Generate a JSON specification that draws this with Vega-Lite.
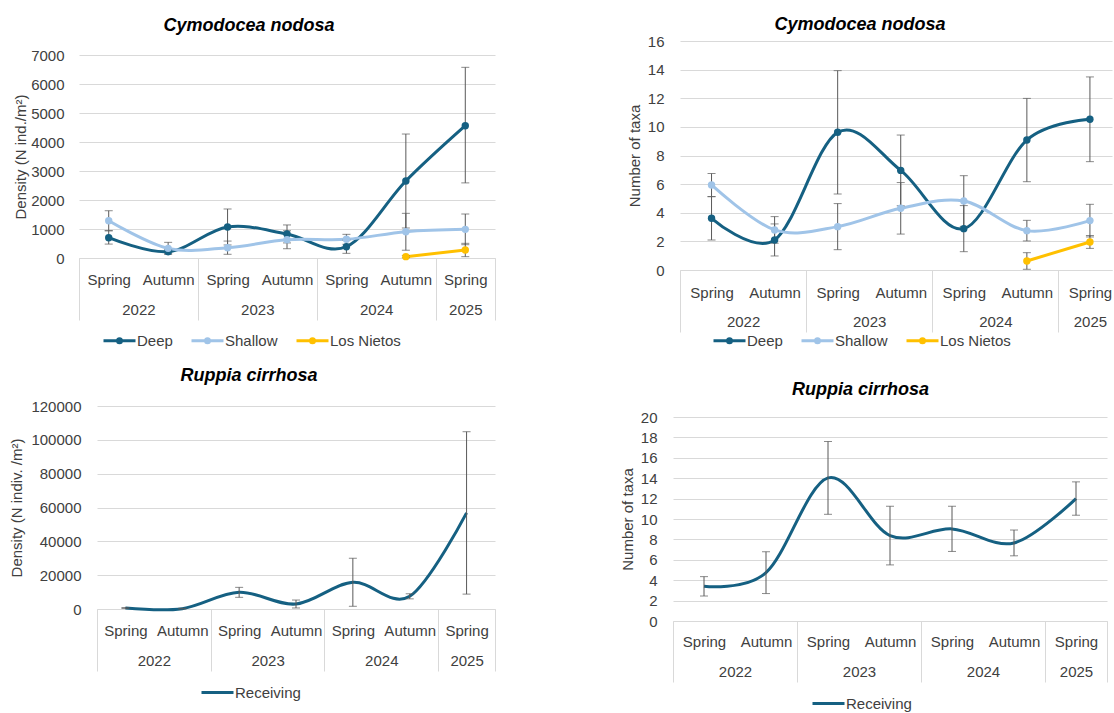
{
  "$schema": "https://vega.github.io/schema/vega-lite/v6.json",
  "background": "white",
  "padding": {"left": 9, "top": 16, "right": 0, "bottom": 0},
  "datasets": {
    "cd": [
      {"t": 1, "season": "Spring", "year": 2022, "series": "Deep", "value": 700, "lo": 480, "hi": 940},
      {"t": 2, "season": "Autumn", "year": 2022, "series": "Deep", "value": 218, "lo": 150, "hi": 290},
      {"t": 3, "season": "Spring", "year": 2023, "series": "Deep", "value": 1070, "lo": 450, "hi": 1690},
      {"t": 4, "season": "Autumn", "year": 2023, "series": "Deep", "value": 830, "lo": 520, "hi": 1140},
      {"t": 5, "season": "Spring", "year": 2024, "series": "Deep", "value": 390, "lo": 161, "hi": 619},
      {"t": 6, "season": "Autumn", "year": 2024, "series": "Deep", "value": 2655, "lo": 1035, "hi": 4275},
      {"t": 7, "season": "Spring", "year": 2025, "series": "Deep", "value": 4562, "lo": 2590, "hi": 6575},
      {"t": 1, "season": "Spring", "year": 2022, "series": "Shallow", "value": 1286, "lo": 940, "hi": 1630},
      {"t": 2, "season": "Autumn", "year": 2022, "series": "Shallow", "value": 333, "lo": 126, "hi": 540},
      {"t": 3, "season": "Spring", "year": 2023, "series": "Shallow", "value": 356, "lo": 128, "hi": 584},
      {"t": 4, "season": "Autumn", "year": 2023, "series": "Shallow", "value": 630, "lo": 320, "hi": 940},
      {"t": 5, "season": "Spring", "year": 2024, "series": "Shallow", "value": 644, "lo": 472, "hi": 816},
      {"t": 6, "season": "Autumn", "year": 2024, "series": "Shallow", "value": 908, "lo": 268, "hi": 1540},
      {"t": 7, "season": "Spring", "year": 2025, "series": "Shallow", "value": 988, "lo": 459, "hi": 1517},
      {"t": 6, "season": "Autumn", "year": 2024, "series": "Los Nietos", "value": 46, "lo": 10, "hi": 82},
      {"t": 7, "season": "Spring", "year": 2025, "series": "Los Nietos", "value": 276, "lo": 46, "hi": 506}
    ],
    "ct": [
      {"t": 1, "season": "Spring", "year": 2022, "series": "Deep", "value": 3.61, "lo": 2.10, "hi": 5.12},
      {"t": 2, "season": "Autumn", "year": 2022, "series": "Deep", "value": 2.10, "lo": 0.98, "hi": 3.22},
      {"t": 3, "season": "Spring", "year": 2023, "series": "Deep", "value": 9.62, "lo": 5.31, "hi": 13.93},
      {"t": 4, "season": "Autumn", "year": 2023, "series": "Deep", "value": 6.96, "lo": 4.49, "hi": 9.43},
      {"t": 5, "season": "Spring", "year": 2024, "series": "Deep", "value": 2.89, "lo": 1.28, "hi": 4.50},
      {"t": 6, "season": "Autumn", "year": 2024, "series": "Deep", "value": 9.08, "lo": 6.17, "hi": 11.99},
      {"t": 7, "season": "Spring", "year": 2025, "series": "Deep", "value": 10.53, "lo": 7.57, "hi": 13.49},
      {"t": 1, "season": "Spring", "year": 2022, "series": "Shallow", "value": 5.94, "lo": 5.14, "hi": 6.74},
      {"t": 2, "season": "Autumn", "year": 2022, "series": "Shallow", "value": 2.80, "lo": 1.87, "hi": 3.73},
      {"t": 3, "season": "Spring", "year": 2023, "series": "Shallow", "value": 3.03, "lo": 1.42, "hi": 4.64},
      {"t": 4, "season": "Autumn", "year": 2023, "series": "Shallow", "value": 4.31, "lo": 2.51, "hi": 6.11},
      {"t": 5, "season": "Spring", "year": 2024, "series": "Shallow", "value": 4.82, "lo": 3.05, "hi": 6.59},
      {"t": 6, "season": "Autumn", "year": 2024, "series": "Shallow", "value": 2.75, "lo": 2.03, "hi": 3.47},
      {"t": 7, "season": "Spring", "year": 2025, "series": "Shallow", "value": 3.45, "lo": 2.31, "hi": 4.59},
      {"t": 6, "season": "Autumn", "year": 2024, "series": "Los Nietos", "value": 0.63, "lo": 0.05, "hi": 1.21},
      {"t": 7, "season": "Spring", "year": 2025, "series": "Los Nietos", "value": 1.96, "lo": 1.51, "hi": 2.41}
    ],
    "rd": [
      {"t": 1, "season": "Spring", "year": 2022, "series": "Receiving", "value": 590, "lo": 290, "hi": 890},
      {"t": 2, "season": "Autumn", "year": 2022, "series": "Receiving", "value": 200, "lo": 0, "hi": 400},
      {"t": 3, "season": "Spring", "year": 2023, "series": "Receiving", "value": 9850, "lo": 6900, "hi": 12800},
      {"t": 4, "season": "Autumn", "year": 2023, "series": "Receiving", "value": 2950, "lo": 600, "hi": 5300},
      {"t": 5, "season": "Spring", "year": 2024, "series": "Receiving", "value": 15800, "lo": 1600, "hi": 30000},
      {"t": 6, "season": "Autumn", "year": 2024, "series": "Receiving", "value": 7500, "lo": 6000, "hi": 9000},
      {"t": 7, "season": "Spring", "year": 2025, "series": "Receiving", "value": 56800, "lo": 8800, "hi": 104800}
    ],
    "rt": [
      {"t": 1, "season": "Spring", "year": 2022, "series": "Receiving", "value": 3.40, "lo": 2.45, "hi": 4.35},
      {"t": 2, "season": "Autumn", "year": 2022, "series": "Receiving", "value": 4.74, "lo": 2.69, "hi": 6.79},
      {"t": 3, "season": "Spring", "year": 2023, "series": "Receiving", "value": 14.03, "lo": 10.46, "hi": 17.60},
      {"t": 4, "season": "Autumn", "year": 2023, "series": "Receiving", "value": 8.38, "lo": 5.50, "hi": 11.25},
      {"t": 5, "season": "Spring", "year": 2024, "series": "Receiving", "value": 9.03, "lo": 6.82, "hi": 11.25},
      {"t": 6, "season": "Autumn", "year": 2024, "series": "Receiving", "value": 7.65, "lo": 6.39, "hi": 8.92},
      {"t": 7, "season": "Spring", "year": 2025, "series": "Receiving", "value": 12.00, "lo": 10.37, "hi": 13.64}
    ]
  },
  "concat": [
    {
      "width": 398, "height": 217,
      "title": {"text": "Cymodocea nodosa", "dx": -47, "offset": 6},
      "data": {"name": "cd"},
      "layer": [
        {"mark": {"type": "line", "interpolate": "cardinal", "strokeWidth": 3},
         "encoding": {
           "x": {"field": "t", "type": "quantitative", "scale": {"domain": [0.5, 7.5], "range": [-18, 398], "nice": false, "zero": false},
                 "axis": {"orient": "bottom", "values": [1, 2, 3, 4, 5, 6, 7], "labelExpr": "datum.value % 2 == 1 ? 'Spring' : 'Autumn'", "domain": true, "ticks": false, "tickSize": 0, "labelPadding": 14, "grid": false, "title": null, "labelOverlap": false, "labelFlush": false}},
           "y": {"field": "value", "type": "quantitative", "scale": {"domain": [0, 7000], "range": [217, 14], "nice": false},
                 "axis": {"title": "Density (N ind./m²)", "values": [0, 1000, 2000, 3000, 4000, 5000, 6000, 7000], "format": "d", "labelPadding": 33, "titlePadding": 2}},
           "color": {"field": "series", "type": "nominal", "scale": {"domain": ["Deep", "Shallow", "Los Nietos"], "range": ["#156082", "#a0c4e8", "#ffc000"]},
                     "legend": {"title": null, "legendX": 5, "legendY": 290}}
         }},
        {"mark": {"type": "rule", "color": "#595959", "strokeWidth": 1},
         "encoding": {
           "x": {"field": "t", "type": "quantitative", "scale": {"domain": [0.5, 7.5], "range": [-18, 398], "nice": false, "zero": false},
                 "axis": {"orient": "bottom", "values": [0.5, 2.5, 4.5, 6.5, 7.5], "labels": false, "domain": false, "ticks": true, "tickSize": 62, "tickColor": "#d9d9d9", "grid": false, "title": null}},
           "y": {"field": "lo", "type": "quantitative", "scale": {"domain": [0, 7000], "range": [217, 14], "nice": false},
                 "axis": {"title": "Density (N ind./m²)", "values": [0, 1000, 2000, 3000, 4000, 5000, 6000, 7000], "format": "d", "labelPadding": 33, "titlePadding": 2}},
           "y2": {"field": "hi"}
         }},
        {"mark": {"type": "tick", "orient": "horizontal", "size": 8, "thickness": 1, "color": "#595959"},
         "encoding": {
           "x": {"field": "t", "type": "quantitative", "scale": {"domain": [0.5, 7.5], "range": [-18, 398], "nice": false, "zero": false},
                 "axis": {"orient": "bottom", "values": [1.5, 3.5, 5.5, 7], "labelExpr": "'' + (2021 + ceil(datum.value / 2))", "domain": false, "ticks": false, "tickSize": 0, "labelPadding": 44, "grid": false, "title": null, "labelOverlap": false, "labelFlush": false}},
           "y": {"field": "hi", "type": "quantitative", "scale": {"domain": [0, 7000], "range": [217, 14], "nice": false},
                 "axis": {"title": "Density (N ind./m²)", "values": [0, 1000, 2000, 3000, 4000, 5000, 6000, 7000], "format": "d", "labelPadding": 33, "titlePadding": 2}}
         }},
        {"mark": {"type": "tick", "orient": "horizontal", "size": 8, "thickness": 1, "color": "#595959"},
         "encoding": {
           "x": {"field": "t", "type": "quantitative", "scale": {"domain": [0.5, 7.5], "range": [-18, 398], "nice": false, "zero": false}, "axis": null},
           "y": {"field": "lo", "type": "quantitative", "scale": {"domain": [0, 7000], "range": [217, 14], "nice": false},
                 "axis": {"title": "Density (N ind./m²)", "values": [0, 1000, 2000, 3000, 4000, 5000, 6000, 7000], "format": "d", "labelPadding": 33, "titlePadding": 2}}
         }},
        {"mark": {"type": "point", "filled": true, "size": 55, "opacity": 1},
         "encoding": {
           "x": {"field": "t", "type": "quantitative", "scale": {"domain": [0.5, 7.5], "range": [-18, 398], "nice": false, "zero": false}, "axis": null},
           "y": {"field": "value", "type": "quantitative", "scale": {"domain": [0, 7000], "range": [217, 14], "nice": false},
                 "axis": {"title": "Density (N ind./m²)", "values": [0, 1000, 2000, 3000, 4000, 5000, 6000, 7000], "format": "d", "labelPadding": 33, "titlePadding": 2}},
           "color": {"field": "series", "type": "nominal", "scale": {"domain": ["Deep", "Shallow", "Los Nietos"], "range": ["#156082", "#a0c4e8", "#ffc000"]}, "legend": null}
         }}
      ],
      "resolve": {"axis": {"x": "independent"}}
    },
    {
      "width": 432, "height": 229,
      "title": {"text": "Cymodocea nodosa", "dx": -36, "offset": 0},
      "data": {"name": "ct"},
      "layer": [
        {"mark": {"type": "line", "interpolate": "cardinal", "strokeWidth": 3},
         "encoding": {
           "x": {"field": "t", "type": "quantitative", "scale": {"domain": [0.5, 7.35], "nice": false, "zero": false},
                 "axis": {"orient": "bottom", "values": [1, 2, 3, 4, 5, 6, 7], "labelExpr": "datum.value % 2 == 1 ? 'Spring' : 'Autumn'", "domain": true, "ticks": false, "tickSize": 0, "labelPadding": 15, "grid": false, "title": null, "labelOverlap": false, "labelFlush": false}},
           "y": {"field": "value", "type": "quantitative", "scale": {"domain": [0, 16], "nice": false},
                 "axis": {"title": "Number of taxa", "values": [0, 2, 4, 6, 8, 10, 12, 14, 16], "labelPadding": 16, "titlePadding": 5}},
           "color": {"field": "series", "type": "nominal", "scale": {"domain": ["Deep", "Shallow", "Los Nietos"], "range": ["#156082", "#a0c4e8", "#ffc000"]},
                     "legend": {"title": null, "legendX": 32, "legendY": 290}}
         }},
        {"mark": {"type": "rule", "color": "#595959", "strokeWidth": 1},
         "encoding": {
           "x": {"field": "t", "type": "quantitative", "scale": {"domain": [0.5, 7.35], "nice": false, "zero": false},
                 "axis": {"orient": "bottom", "values": [0.5, 2.5, 4.5, 6.5], "labels": false, "domain": false, "ticks": true, "tickSize": 62, "tickColor": "#d9d9d9", "grid": false, "title": null}},
           "y": {"field": "lo", "type": "quantitative", "scale": {"domain": [0, 16], "nice": false},
                 "axis": {"title": "Number of taxa", "values": [0, 2, 4, 6, 8, 10, 12, 14, 16], "labelPadding": 16, "titlePadding": 5}},
           "y2": {"field": "hi"}
         }},
        {"mark": {"type": "tick", "orient": "horizontal", "size": 8, "thickness": 1, "color": "#595959"},
         "encoding": {
           "x": {"field": "t", "type": "quantitative", "scale": {"domain": [0.5, 7.35], "nice": false, "zero": false},
                 "axis": {"orient": "bottom", "values": [1.5, 3.5, 5.5, 7], "labelExpr": "'' + (2021 + ceil(datum.value / 2))", "domain": false, "ticks": false, "tickSize": 0, "labelPadding": 44, "grid": false, "title": null, "labelOverlap": false, "labelFlush": false}},
           "y": {"field": "hi", "type": "quantitative", "scale": {"domain": [0, 16], "nice": false},
                 "axis": {"title": "Number of taxa", "values": [0, 2, 4, 6, 8, 10, 12, 14, 16], "labelPadding": 16, "titlePadding": 5}}
         }},
        {"mark": {"type": "tick", "orient": "horizontal", "size": 8, "thickness": 1, "color": "#595959"},
         "encoding": {
           "x": {"field": "t", "type": "quantitative", "scale": {"domain": [0.5, 7.35], "nice": false, "zero": false}, "axis": null},
           "y": {"field": "lo", "type": "quantitative", "scale": {"domain": [0, 16], "nice": false},
                 "axis": {"title": "Number of taxa", "values": [0, 2, 4, 6, 8, 10, 12, 14, 16], "labelPadding": 16, "titlePadding": 5}}
         }},
        {"mark": {"type": "point", "filled": true, "size": 55, "opacity": 1},
         "encoding": {
           "x": {"field": "t", "type": "quantitative", "scale": {"domain": [0.5, 7.35], "nice": false, "zero": false}, "axis": null},
           "y": {"field": "value", "type": "quantitative", "scale": {"domain": [0, 16], "nice": false},
                 "axis": {"title": "Number of taxa", "values": [0, 2, 4, 6, 8, 10, 12, 14, 16], "labelPadding": 16, "titlePadding": 5}},
           "color": {"field": "series", "type": "nominal", "scale": {"domain": ["Deep", "Shallow", "Los Nietos"], "range": ["#156082", "#a0c4e8", "#ffc000"]}, "legend": null}
         }}
      ],
      "resolve": {"axis": {"x": "independent"}}
    },
    {
      "width": 398, "height": 203,
      "title": {"text": "Ruppia cirrhosa", "dx": -47, "offset": 14},
      "data": {"name": "rd"},
      "layer": [
        {"mark": {"type": "line", "interpolate": "cardinal", "strokeWidth": 3},
         "encoding": {
           "x": {"field": "t", "type": "quantitative", "scale": {"domain": [0.5, 7.5], "nice": false, "zero": false},
                 "axis": {"orient": "bottom", "values": [1, 2, 3, 4, 5, 6, 7], "labelExpr": "datum.value % 2 == 1 ? 'Spring' : 'Autumn'", "domain": true, "ticks": false, "tickSize": 0, "labelPadding": 14, "grid": false, "title": null, "labelOverlap": false, "labelFlush": false}},
           "y": {"field": "value", "type": "quantitative", "scale": {"domain": [0, 120000], "nice": false},
                 "axis": {"title": "Density (N indiv. /m²)", "values": [0, 20000, 40000, 60000, 80000, 100000, 120000], "format": "d", "labelPadding": 16, "titlePadding": 6}},
           "color": {"field": "series", "type": "nominal", "scale": {"domain": ["Receiving"], "range": ["#156082"]},
                     "legend": {"title": null, "legendX": 103, "legendY": 277, "symbolType": "M-1,0H3"}}
         }},
        {"mark": {"type": "rule", "color": "#595959", "strokeWidth": 1},
         "encoding": {
           "x": {"field": "t", "type": "quantitative", "scale": {"domain": [0.5, 7.5], "nice": false, "zero": false},
                 "axis": {"orient": "bottom", "values": [0.5, 2.5, 4.5, 6.5, 7.5], "labels": false, "domain": false, "ticks": true, "tickSize": 62, "tickColor": "#d9d9d9", "grid": false, "title": null}},
           "y": {"field": "lo", "type": "quantitative", "scale": {"domain": [0, 120000], "nice": false},
                 "axis": {"title": "Density (N indiv. /m²)", "values": [0, 20000, 40000, 60000, 80000, 100000, 120000], "format": "d", "labelPadding": 16, "titlePadding": 6}},
           "y2": {"field": "hi"}
         }},
        {"mark": {"type": "tick", "orient": "horizontal", "size": 8, "thickness": 1, "color": "#595959"},
         "encoding": {
           "x": {"field": "t", "type": "quantitative", "scale": {"domain": [0.5, 7.5], "nice": false, "zero": false},
                 "axis": {"orient": "bottom", "values": [1.5, 3.5, 5.5, 7], "labelExpr": "'' + (2021 + ceil(datum.value / 2))", "domain": false, "ticks": false, "tickSize": 0, "labelPadding": 44, "grid": false, "title": null, "labelOverlap": false, "labelFlush": false}},
           "y": {"field": "hi", "type": "quantitative", "scale": {"domain": [0, 120000], "nice": false},
                 "axis": {"title": "Density (N indiv. /m²)", "values": [0, 20000, 40000, 60000, 80000, 100000, 120000], "format": "d", "labelPadding": 16, "titlePadding": 6}}
         }},
        {"mark": {"type": "tick", "orient": "horizontal", "size": 8, "thickness": 1, "color": "#595959"},
         "encoding": {
           "x": {"field": "t", "type": "quantitative", "scale": {"domain": [0.5, 7.5], "nice": false, "zero": false}, "axis": null},
           "y": {"field": "lo", "type": "quantitative", "scale": {"domain": [0, 120000], "nice": false},
                 "axis": {"title": "Density (N indiv. /m²)", "values": [0, 20000, 40000, 60000, 80000, 100000, 120000], "format": "d", "labelPadding": 16, "titlePadding": 6}}
         }}
      ],
      "resolve": {"axis": {"x": "independent"}}
    },
    {
      "width": 427, "height": 215,
      "title": {"text": "Ruppia cirrhosa", "dx": -33, "offset": 7},
      "data": {"name": "rt"},
      "layer": [
        {"mark": {"type": "line", "interpolate": "cardinal", "strokeWidth": 3},
         "encoding": {
           "x": {"field": "t", "type": "quantitative", "scale": {"domain": [0.5, 7.5], "range": [-7, 427], "nice": false, "zero": false},
                 "axis": {"orient": "bottom", "values": [1, 2, 3, 4, 5, 6, 7], "labelExpr": "datum.value % 2 == 1 ? 'Spring' : 'Autumn'", "domain": true, "ticks": false, "tickSize": 0, "labelPadding": 13, "grid": false, "title": null, "labelOverlap": false, "labelFlush": false}},
           "y": {"field": "value", "type": "quantitative", "scale": {"domain": [0, 20], "range": [215, 11], "nice": false},
                 "axis": {"title": "Number of taxa", "values": [0, 2, 4, 6, 8, 10, 12, 14, 16, 18, 20], "labelPadding": 23, "titlePadding": 5}},
           "color": {"field": "series", "type": "nominal", "scale": {"domain": ["Receiving"], "range": ["#156082"]},
                     "legend": {"title": null, "legendX": 131, "legendY": 288, "symbolType": "M-1,0H3"}}
         }},
        {"mark": {"type": "rule", "color": "#595959", "strokeWidth": 1},
         "encoding": {
           "x": {"field": "t", "type": "quantitative", "scale": {"domain": [0.5, 7.5], "range": [-7, 427], "nice": false, "zero": false},
                 "axis": {"orient": "bottom", "values": [0.5, 2.5, 4.5, 6.5, 7.5], "labels": false, "domain": false, "ticks": true, "tickSize": 61, "tickColor": "#d9d9d9", "grid": false, "title": null}},
           "y": {"field": "lo", "type": "quantitative", "scale": {"domain": [0, 20], "range": [215, 11], "nice": false},
                 "axis": {"title": "Number of taxa", "values": [0, 2, 4, 6, 8, 10, 12, 14, 16, 18, 20], "labelPadding": 23, "titlePadding": 5}},
           "y2": {"field": "hi"}
         }},
        {"mark": {"type": "tick", "orient": "horizontal", "size": 8, "thickness": 1, "color": "#595959"},
         "encoding": {
           "x": {"field": "t", "type": "quantitative", "scale": {"domain": [0.5, 7.5], "range": [-7, 427], "nice": false, "zero": false},
                 "axis": {"orient": "bottom", "values": [1.5, 3.5, 5.5, 7], "labelExpr": "'' + (2021 + ceil(datum.value / 2))", "domain": false, "ticks": false, "tickSize": 0, "labelPadding": 43, "grid": false, "title": null, "labelOverlap": false, "labelFlush": false}},
           "y": {"field": "hi", "type": "quantitative", "scale": {"domain": [0, 20], "range": [215, 11], "nice": false},
                 "axis": {"title": "Number of taxa", "values": [0, 2, 4, 6, 8, 10, 12, 14, 16, 18, 20], "labelPadding": 23, "titlePadding": 5}}
         }},
        {"mark": {"type": "tick", "orient": "horizontal", "size": 8, "thickness": 1, "color": "#595959"},
         "encoding": {
           "x": {"field": "t", "type": "quantitative", "scale": {"domain": [0.5, 7.5], "range": [-7, 427], "nice": false, "zero": false}, "axis": null},
           "y": {"field": "lo", "type": "quantitative", "scale": {"domain": [0, 20], "range": [215, 11], "nice": false},
                 "axis": {"title": "Number of taxa", "values": [0, 2, 4, 6, 8, 10, 12, 14, 16, 18, 20], "labelPadding": 23, "titlePadding": 5}}
         }}
      ],
      "resolve": {"axis": {"x": "independent"}}
    }
  ],
  "columns": 2,
  "align": "each",
  "spacing": {"row": 18, "column": 107},
  "resolve": {"scale": {"color": "independent"}, "legend": {"color": "independent"}},
  "config": {
    "font": "Liberation Sans",
    "view": {"stroke": null},
    "axis": {"labelFontSize": 15, "labelColor": "#404040", "titleFontSize": 15, "titleColor": "#404040", "titleFontWeight": "normal", "gridColor": "#d9d9d9", "domainColor": "#d9d9d9", "tickColor": "#d9d9d9", "domainWidth": 1, "gridWidth": 1},
    "axisY": {"grid": true, "domain": false, "ticks": false, "tickSize": 0},
    "title": {"fontSize": 18, "fontWeight": "bold", "fontStyle": "italic", "color": "#000000", "frame": "group", "anchor": "middle"},
    "legend": {"orient": "none", "direction": "horizontal", "symbolType": "M-1,0H3M1.25,0A0.25,0.25,0,1,1,0.75,0A0.25,0.25,0,1,1,1.25,0Z", "symbolSize": 256, "symbolStrokeWidth": 3, "labelOffset": 16, "labelFontSize": 15, "labelColor": "#404040", "columnPadding": 12, "padding": 0, "labelLimit": 0}
  }
}
